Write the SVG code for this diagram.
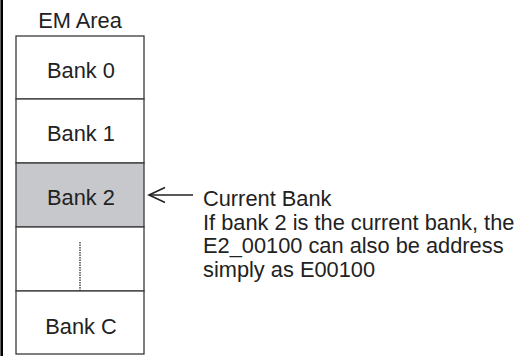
<svg xmlns="http://www.w3.org/2000/svg" width="522" height="356" viewBox="0 0 522 356">
<style>
text{font-family:"Liberation Sans",Arial,sans-serif;font-size:21.8px;fill:#222}
.c{text-anchor:middle}
.box{fill:#fff;stroke:#3a3a3a;stroke-width:1.3}
.cur{fill:#c7c8cb}
</style>
<defs>
<marker id="ah" markerWidth="20" markerHeight="20" refX="17" refY="8" orient="auto" markerUnits="userSpaceOnUse">
<path d="M1,0.5 L17,8 L1,15.5" fill="none" stroke="#222" stroke-width="1.6"/>
</marker>
</defs>
<rect width="522" height="356" fill="#fff"/>
<line x1="1.7" y1="0" x2="1.7" y2="356" stroke="#000" stroke-width="2.6"/>
<text class="c" x="80" y="27.5">EM Area</text>
<g id="bank0"><rect class="box" x="16" y="36" width="128" height="63"/><text class="c" x="81" y="77.5">Bank 0</text></g>
<g id="bank1"><rect class="box" x="16" y="99" width="128" height="64"/><text class="c" x="81" y="141">Bank 1</text></g>
<g id="bank2"><rect class="box cur" x="16" y="163" width="128" height="64"/><text class="c" x="81" y="205">Bank 2</text></g>
<g id="gap"><rect class="box" x="16" y="227" width="128" height="64"/><line x1="80" y1="242" x2="80" y2="291" stroke="#333" stroke-width="1.3" stroke-dasharray="1.5,1"/></g>
<g id="bankC"><rect class="box" x="16" y="291" width="128" height="63"/><text class="c" x="81" y="333.5">Bank C</text></g>
<g id="connectors"><line x1="193" y1="195" x2="149" y2="195" stroke="#222" stroke-width="1.6" marker-end="url(#ah)"/></g>
<g id="note">
<text x="203" y="206">Current Bank</text>
<text x="203" y="229.5">If bank 2 is the current bank, the</text>
<text x="203" y="253">E2_00100 can also be address</text>
<text x="203" y="276.5">simply as E00100</text>
</g>
</svg>
